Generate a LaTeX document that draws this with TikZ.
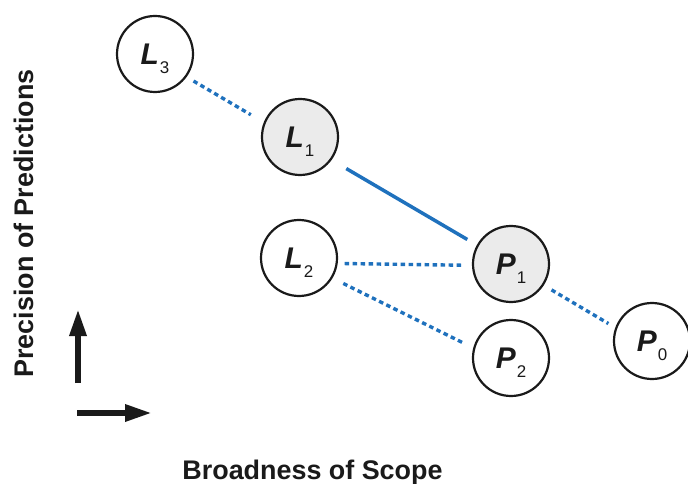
\documentclass[tikz,border=0pt]{standalone}
\usepackage{fontspec}
\setmainfont{Liberation Sans}
\usetikzlibrary{arrows.meta}
\definecolor{linkblue}{RGB}{31,113,189}
\definecolor{nodegray}{RGB}{235,235,235}
\definecolor{inkdark}{RGB}{26,26,26}
\newcommand{\varlab}[2]{\fontsize{30}{30}\selectfont\textbf{\textit{#1}}\kern1bp\raisebox{-9bp}[0pt][0pt]{\fontsize{17}{17}\selectfont #2}}
\tikzset{
  var/.style={circle, draw=inkdark, line width=2.2bp, minimum size=76bp, inner sep=0pt, fill=white, text=inkdark},
  varfilled/.style={var, fill=nodegray},
  strong/.style={draw=linkblue, line width=3.5bp},
  weak/.style={draw=linkblue, line width=3.4bp, dash pattern=on 4.5bp off 3.5bp},
  axisarrow/.style={draw=inkdark, line width=6bp, -{Triangle[length=27bp,width=16bp]}},
  axislabel/.style={text=inkdark, font=\fontsize{27}{27}\selectfont\bfseries}
}
\begin{document}
\begin{tikzpicture}[x=1bp,y=-1bp]
\useasboundingbox (0,0) rectangle (688,484);
\node[var] (L3) at (155,54) {\varlab{L}{3}};
\node[varfilled] (L1) at (300,137) {\varlab{L}{1}};
\node[var] (L2) at (299,258) {\varlab{L}{2}};
\node[varfilled] (P1) at (511,264) {\varlab{P}{1}};
\node[var] (P2) at (511,358) {\varlab{P}{2}};
\node[var] (P0) at (652,341) {\varlab{P}{0}};

\draw[weak, shorten <=8bp, shorten >=15bp] (L3.-36) -- (L1.158);
\draw[strong, shorten <=17bp, shorten >=11bp] (L1.-36) -- (P1.151);
\draw[weak, shorten <=7bp, shorten >=9bp] (L2.-8) -- (P1.182);
\draw[weak, shorten <=12bp, shorten >=10bp] (L2.-31) -- (P2.165);
\draw[weak, shorten <=9bp, shorten >=8bp] (P1.-33) -- (P0.160);

\coordinate (vbot) at (78,383);
\coordinate (vtop) at (78,309);
\coordinate (hleft) at (77,413);
\coordinate (hright) at (152,413);
\draw[axisarrow] (vbot) -- (vtop);
\draw[axisarrow] (hleft) -- (hright);

\node[axislabel, rotate=90] (ylab) at (23.5,223.5) {Precision of Predictions};
\node[axislabel, anchor=base] (xlab) at (312.5,479) {Broadness of Scope};
\end{tikzpicture}
\end{document}
